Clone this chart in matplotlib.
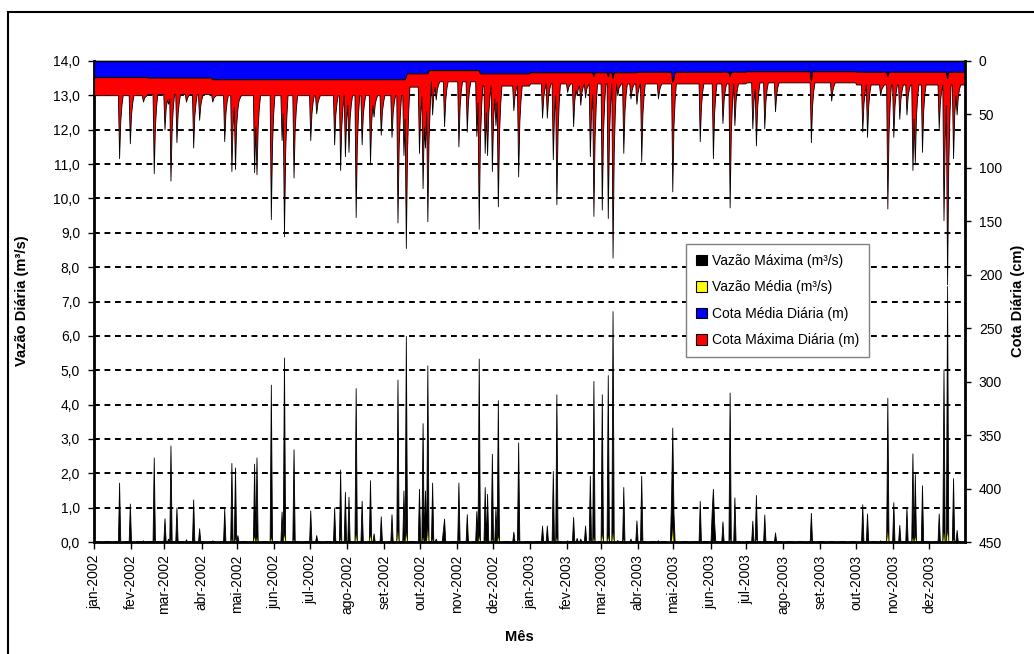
import numpy as np
import pandas as pd
import matplotlib
matplotlib.use("Agg")
import matplotlib.pyplot as plt
from matplotlib.patches import Patch, Rectangle

plt.rcParams["font.family"] = ["Liberation Sans", "DejaVu Sans"]

# --- data --------------------------------------------------------------
# events: date, vazão máxima (m³/s), vazão média (m³/s), cota máxima (cm)
ev_dates = [
    "2002-01-22", "2002-01-31", "2002-02-11", "2002-02-20", "2002-03-01",
    "2002-03-04", "2002-03-06", "2002-03-11", "2002-03-19", "2002-03-25",
    "2002-03-30", "2002-04-10", "2002-04-20", "2002-04-26", "2002-04-29",
    "2002-05-01", "2002-05-15", "2002-05-17", "2002-05-29", "2002-06-07",
    "2002-06-09", "2002-06-17", "2002-07-01", "2002-07-06", "2002-07-21",
    "2002-07-26", "2002-07-30", "2002-08-02", "2002-08-08", "2002-08-13",
    "2002-08-20", "2002-08-23", "2002-08-29", "2002-09-07", "2002-09-12",
    "2002-09-17", "2002-09-19", "2002-09-30", "2002-10-03", "2002-10-05",
    "2002-10-07", "2002-10-11", "2002-10-14", "2002-10-21", "2002-11-02",
    "2002-11-09", "2002-11-17", "2002-11-19", "2002-11-24", "2002-11-26",
    "2002-11-30", "2002-12-03", "2002-12-05", "2002-12-18", "2002-12-22",
    "2003-01-11", "2003-01-15", "2003-01-20", "2003-01-23", "2003-02-01",
    "2003-02-06", "2003-02-09", "2003-02-12", "2003-02-16", "2003-02-20",
    "2003-02-23", "2003-03-02", "2003-03-07", "2003-03-11", "2003-03-15",
    "2003-03-20", "2003-03-26", "2003-03-31", "2003-04-04", "2003-04-18",
    "2003-04-30", "2003-05-23", "2003-06-03", "2003-06-11", "2003-06-17",
    "2003-06-21", "2003-07-06", "2003-07-09", "2003-07-16", "2003-07-25",
    "2003-08-24", "2003-09-10", "2003-10-06", "2003-10-10", "2003-10-21",
    "2003-10-27", "2003-11-01", "2003-11-06", "2003-11-12", "2003-11-17",
    "2003-11-19", "2003-11-25", "2003-12-09", "2003-12-13", "2003-12-16",
    "2003-12-21", "2003-12-24",
]
ev_vmax = [
    1.73, 1.12, 0.05, 2.46, 0.69, 0.10, 2.81, 1.01, 0.08, 1.24,
    0.40, 0.05, 0.98, 2.30, 2.17, 0.20, 2.28, 2.46, 4.58, 0.89,
    5.37, 2.70, 0.92, 0.20, 1.00, 2.11, 1.46, 1.32, 4.48, 1.20,
    1.80, 0.25, 0.75, 0.81, 4.73, 1.50, 6.00, 1.55, 3.46, 1.50,
    5.14, 1.73, 0.10, 0.68, 1.73, 0.81, 0.90, 5.34, 1.60, 1.40,
    2.57, 1.00, 4.13, 0.30, 2.90,
    0.48, 0.48, 2.07, 4.30, 0.05, 0.73, 0.12, 0.10, 0.48, 1.93,
    4.69, 4.30, 4.86, 6.72, 0.06, 1.60, 0.10, 0.63, 1.93, 0.05,
    3.33, 1.20, 1.55, 0.60, 4.35, 1.30, 0.62, 1.37, 0.80, 0.28,
    0.85, 0.02, 1.10, 0.83, 0.05, 4.20, 1.16, 0.50, 1.00, 2.58,
    1.98, 1.65, 0.83, 5.02, 7.45, 1.86, 0.35,
]
ev_vmed = [
    0.05, 0.03, 0.00, 0.08, 0.03, 0.00, 0.08, 0.03, 0.00, 0.05,
    0.02, 0.00, 0.05, 0.10, 0.12, 0.02, 0.20, 0.15, 0.15, 0.05,
    0.28, 0.10, 0.08, 0.02, 0.05, 0.12, 0.08, 0.05, 0.25, 0.05,
    0.25, 0.02, 0.05, 0.05, 0.35, 0.08, 0.30, 0.05, 0.15, 0.08,
    0.42, 0.10, 0.00, 0.05, 0.08, 0.03, 0.05, 0.20, 0.08, 0.05,
    0.10, 0.05, 0.20, 0.02, 0.10,
    0.02, 0.02, 0.08, 0.15, 0.00, 0.03, 0.00, 0.00, 0.02, 0.08,
    0.15, 0.25, 0.20, 0.30, 0.00, 0.10, 0.00, 0.02, 0.08, 0.00,
    0.45, 0.05, 0.08, 0.02, 0.10, 0.03, 0.02, 0.10, 0.02, 0.01,
    0.08, 0.00, 0.02, 0.02, 0.00, 0.35, 0.05, 0.02, 0.05, 0.15,
    0.20, 0.05, 0.02, 0.30, 0.40, 0.10, 0.02,
]
# cota máxima on the event day and on the two days after it (cm)
ev_cota_max = [
    91, 77, 38, 105, 64, 40, 112, 76, 38, 81,
    55, 38, 75, 103, 101, 45, 104, 106, 148, 74,
    164, 109, 74, 49, 78, 102, 89, 85, 146, 78,
    95, 52, 69, 71, 151, 88, 175, 86, 119, 81,
    150, 50, 36, 61, 80, 66, 70, 157, 86, 88,
    103, 60, 136, 46, 108,
    53, 53, 92, 134, 29, 61, 32, 41, 34, 89,
    145, 139, 147, 184, 32, 86, 35, 40, 94, 35,
    122, 75, 91, 58, 137, 60, 63, 79, 63, 47,
    76, 37, 66, 71, 32, 138, 71, 54, 50, 102,
    95, 85, 63, 149, 209, 91, 50,
]
ev_cota_d1 = [
    56, 50, 34, 61, 44, 35, 63, 49, 34, 51,
    41, 34, 49, 60, 60, 37, 61, 62, 78, 49,
    85, 63, 49, 39, 50, 60, 55, 53, 78, 50,
    57, 40, 47, 48, 80, 54, 84, 49, 62, 47,
    74, 31, 26, 36, 43, 38, 39, 75, 48, 49,
    55, 38, 68, 32, 57,
    34, 34, 49, 66, 24, 37, 25, 29, 26, 48,
    71, 68, 71, 86, 25, 47, 27, 29, 50, 27,
    61, 43, 49, 36, 67, 37, 37, 44, 37, 31,
    42, 27, 40, 42, 26, 68, 42, 35, 33, 54,
    51, 47, 38, 73, 97, 50, 33,
]
ev_cota_d2 = [
    41, 39, 33, 42, 36, 32, 43, 38, 32, 39,
    35, 33, 38, 43, 42, 34, 43, 43, 49, 38,
    52, 44, 38, 35, 39, 43, 41, 40, 49, 39,
    41, 35, 38, 38, 50, 40, 47, 33, 38, 33,
    43, 24, 22, 25, 28, 26, 27, 43, 32, 33,
    35, 29, 40, 26, 36,
    26, 26, 32, 38, 22, 27, 23, 24, 23, 31,
    40, 39, 40, 45, 23, 31, 23, 24, 32, 23,
    36, 29, 32, 27, 38, 27, 26, 29, 26, 24,
    28, 23, 29, 29, 24, 39, 29, 27, 26, 34,
    33, 31, 28, 41, 50, 32, 26,
]

# extra days on the wider flow humps
hump_dates = ["2002-10-20", "2003-04-29", "2003-05-01", "2003-06-02", "2003-06-04"]
hump_vmax = [0.35, 1.30, 0.85, 0.90, 0.60]

# dips of the mean level on the biggest events (cm)
med_dates = ["2002-09-19", "2003-02-23", "2003-03-07", "2003-03-11", "2003-04-30",
             "2003-05-01", "2003-06-17", "2003-08-24", "2003-10-27", "2003-12-16"]
med_vals = [14, 14, 14, 16, 19, 16, 14, 18, 14, 16]

# base levels between events: start date, cota média (cm), cota máxima (cm)
seg_start = ["2002-01-01", "2002-02-15", "2002-04-10", "2002-09-19", "2002-10-08",
             "2002-11-20", "2003-01-01", "2003-04-01", "2003-07-01", "2003-10-01"]
seg_cota_med = [15.0, 15.5, 17.0, 11.5, 8.5, 11.5, 10.5, 10.0, 9.5, 10.0]
seg_cota_max = [32, 31, 32, 24, 19, 23, 21, 21, 20, 22]

meses = ["jan", "fev", "mar", "abr", "mai", "jun", "jul", "ago", "set", "out", "nov", "dez"]
vazao_ticks = list(range(0, 15))
vazao_labels = [f"{v},0" for v in vazao_ticks]
cota_ticks = list(range(0, 451, 50))

# --- build daily series ------------------------------------------------
days = pd.date_range("2002-01-01", "2003-12-31", freq="D")
n = len(days)
vmax = np.zeros(n)
vmed = np.zeros(n)
cota_med = np.zeros(n)
cota_max = np.zeros(n)
for start, med, mx in zip(seg_start, seg_cota_med, seg_cota_max):
    m = days >= pd.Timestamp(start)
    cota_med[m] = med
    cota_max[m] = mx

idx = days.get_indexer(pd.to_datetime(ev_dates))
for lag, vals in ((2, ev_cota_d2), (1, ev_cota_d1)):
    j = np.clip(idx + lag, 0, n - 1)
    cota_max[j] = np.maximum(cota_max[j], vals)
cota_max[idx] = ev_cota_max
vmax[idx] = ev_vmax
vmed[idx] = ev_vmed
vmax[days.get_indexer(pd.to_datetime(hump_dates))] = hump_vmax
cota_med[days.get_indexer(pd.to_datetime(med_dates))] = med_vals

# --- figure ------------------------------------------------------------
W, H = 1034, 654
fig = plt.figure(figsize=(W / 100, H / 100), dpi=100)
ax1 = fig.add_axes([94 / W, 1 - 542 / H, (965 - 94) / W, (542 - 61) / H])

ax1.set_axisbelow(True)
ax1.fill_between(days, 0, vmax, facecolor="black", edgecolor="black", lw=0.6)
ax1.fill_between(days, 0, vmed, facecolor="yellow", edgecolor="black", lw=0.3)
ax1.set_ylim(0, 14)
ax1.set_xlim(days[0], days[-1])
ax1.set_yticks(vazao_ticks)
ax1.set_yticklabels(vazao_labels)
ax1.yaxis.grid(True, color="black", lw=1.4, linestyle=(0, (3, 2.4)))

month_starts = pd.date_range("2002-01-01", "2003-12-01", freq="MS")
ax1.set_xticks(month_starts)
ax1.set_xticklabels([f"{meses[d.month - 1]}-{d.year}" for d in month_starts], rotation=90)

ax2 = ax1.twinx()
ax2.fill_between(days, 0, cota_max, facecolor="red", edgecolor="black", lw=0.6)
ax2.fill_between(days, 0, cota_med, facecolor="blue", edgecolor="black", lw=0.8)
ax2.set_ylim(450, 0)
ax2.set_yticks(cota_ticks)
ax2.set_xlim(days[0], days[-1])

for ax in (ax1, ax2):
    ax.tick_params(labelsize=10, colors="black", direction="out", length=4, width=1, pad=6)
    ax.spines["top"].set_linewidth(1.0)
for s in ("left", "bottom"):
    ax1.spines[s].set_linewidth(2.0)
ax2.spines["right"].set_linewidth(2.0)
ax1.tick_params(axis="x", length=5, pad=4)

fig.text(22 / W, 1 - 301 / H, "Vazão Diária (m³/s)", rotation=90, ha="center", va="center",
         fontsize=10.5, fontweight="bold")
fig.text(1018 / W, 1 - 301 / H, "Cota Diária (cm)", rotation=90, ha="center", va="center",
         fontsize=10.5, fontweight="bold")
fig.text(519 / W, 1 - 637 / H, "Mês", ha="center", va="center", fontsize=10.5, fontweight="bold")

handles = [
    Patch(facecolor="black", edgecolor="black", lw=0.8),
    Patch(facecolor="yellow", edgecolor="black", lw=0.8),
    Patch(facecolor="blue", edgecolor="black", lw=0.8),
    Patch(facecolor="red", edgecolor="black", lw=0.8),
]
labels = ["Vazão Máxima (m³/s)", "Vazão Média (m³/s)", "Cota Média Diária (m)", "Cota Máxima Diária (m)"]
leg = ax2.legend(handles, labels, loc="upper left", bbox_to_anchor=(686 / W, 1 - 244 / H),
                 bbox_transform=fig.transFigure, fontsize=10, frameon=True, fancybox=False,
                 framealpha=1, edgecolor="#808080", handlelength=0.8, handleheight=0.8,
                 handletextpad=0.4, labelspacing=0.9, borderpad=0.7, borderaxespad=0)
leg.get_frame().set_linewidth(1.0)

fig.patches.append(Rectangle((8 / W, -0.1), 1.2, 1 - 12 / H + 0.1, transform=fig.transFigure,
                             fill=False, edgecolor="black", lw=1.5))

fig.savefig("out.png", dpi=100)
